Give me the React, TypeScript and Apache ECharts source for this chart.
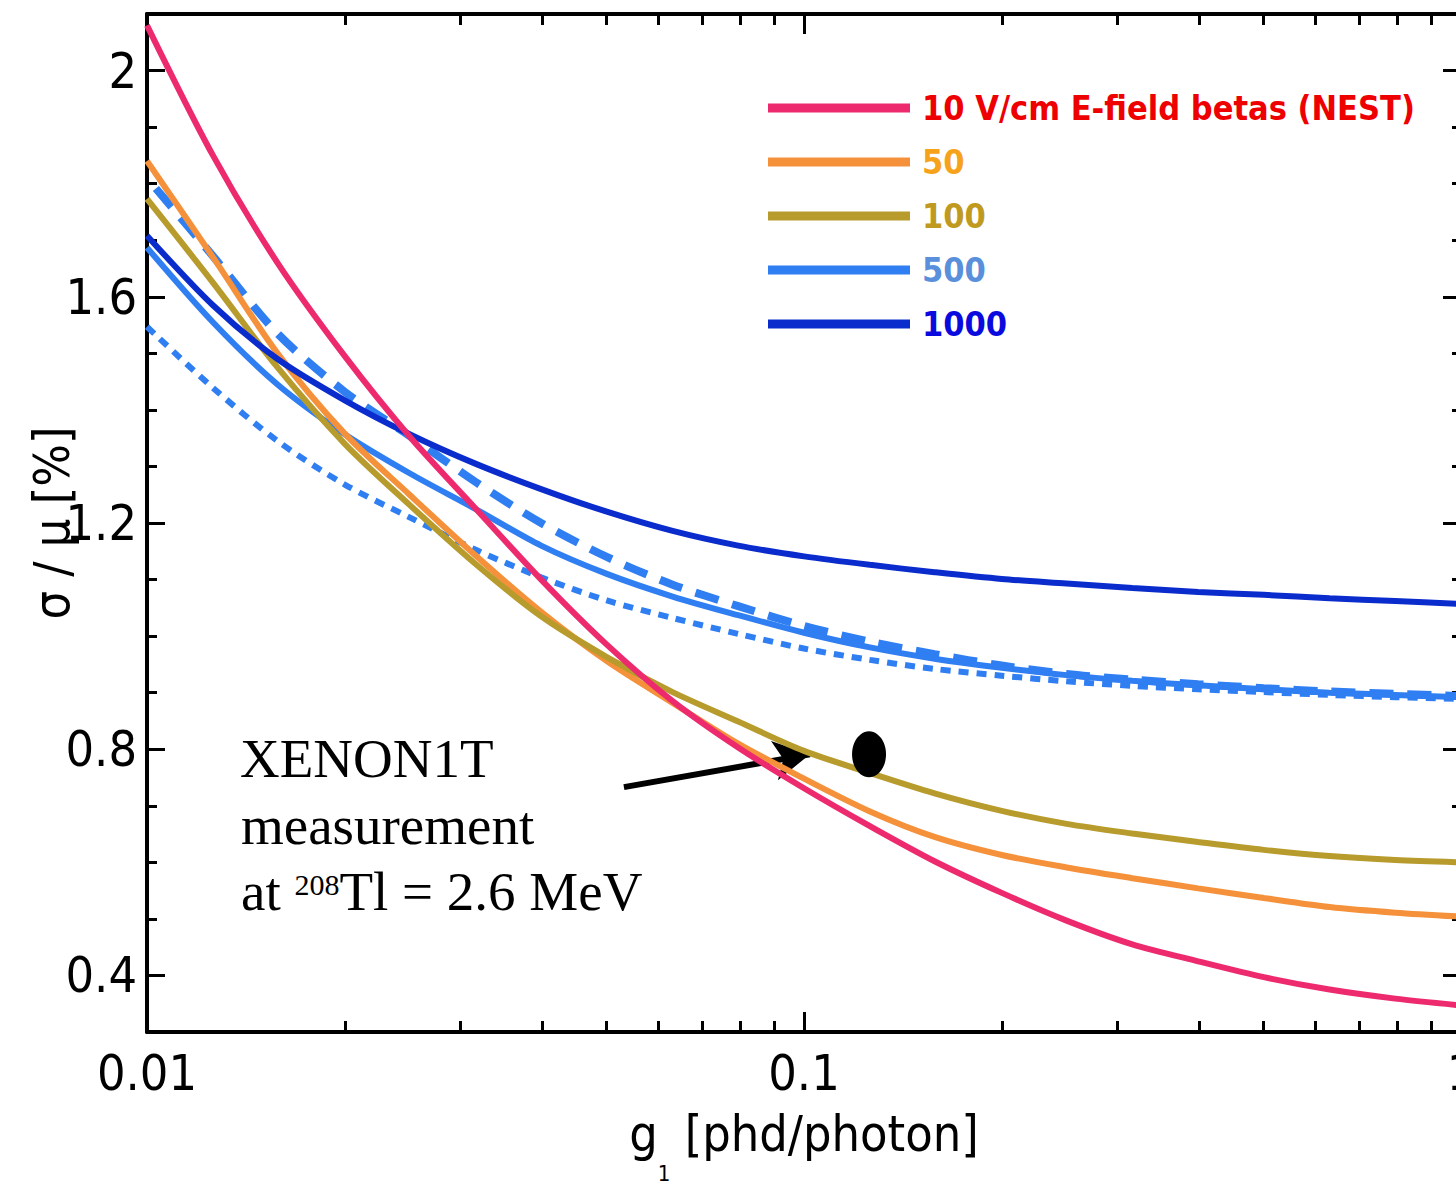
import { useEffect, useRef } from "react";
import * as echarts from "echarts";

// ---- data: g1 grid (phd/photon) and sigma/mu (%) per drift field ----
const gGrid = [0.01, 0.0126, 0.0158, 0.02, 0.0251, 0.0316, 0.0398, 0.0501, 0.0631, 0.0794, 0.1, 0.126, 0.158, 0.2, 0.251, 0.316, 0.398, 0.501, 0.631, 0.794, 1];
const field10 = [2.08, 1.85, 1.66, 1.495, 1.353, 1.226, 1.1, 0.985, 0.885, 0.803, 0.731, 0.664, 0.602, 0.546, 0.497, 0.455, 0.425, 0.397, 0.375, 0.359, 0.347];
const field50 = [1.84, 1.67, 1.5, 1.358, 1.25, 1.143, 1.043, 0.956, 0.882, 0.81, 0.748, 0.69, 0.645, 0.613, 0.591, 0.572, 0.554, 0.537, 0.521, 0.511, 0.504];
const field100 = [1.773, 1.625, 1.475, 1.34, 1.232, 1.128, 1.035, 0.963, 0.901, 0.849, 0.797, 0.758, 0.722, 0.691, 0.668, 0.651, 0.636, 0.622, 0.611, 0.604, 0.6];
const field500 = [1.687, 1.555, 1.445, 1.357, 1.288, 1.225, 1.16, 1.11, 1.07, 1.037, 1.006, 0.98, 0.96, 0.944, 0.931, 0.921, 0.913, 0.906, 0.9, 0.896, 0.892];
const field500Dashed = [1.81, 1.672, 1.535, 1.432, 1.354, 1.273, 1.2, 1.14, 1.091, 1.053, 1.018, 0.99, 0.968, 0.948, 0.933, 0.923, 0.915, 0.908, 0.902, 0.898, 0.894];
const field500Dotted = [1.547, 1.439, 1.345, 1.268, 1.21, 1.153, 1.104, 1.063, 1.032, 1.004, 0.978, 0.958, 0.942, 0.93, 0.92, 0.912, 0.906, 0.901, 0.896, 0.892, 0.889];
const field1000 = [1.708, 1.585, 1.49, 1.417, 1.357, 1.305, 1.26, 1.22, 1.186, 1.16, 1.141, 1.126, 1.113, 1.101, 1.093, 1.085, 1.078, 1.073, 1.067, 1.062, 1.057];

const xenon1tPoint = [[0.1256, 0.791]];
const arrowFrom = [0.0532, 0.733];
const arrowTo = [0.1021, 0.791];

const legendNames = ["10 V/cm E-field betas (NEST)", "50", "100", "500", "1000"];
const legendTextColors = ["#ee0000", "#f7a21b", "#c09a1e", "#5a8fdb", "#0a0adf"];
const lineColors = {
  f10: "#ee2a6f",
  f50: "#f5913a",
  f100: "#b79b2c",
  f500: "#2f7ef2",
  f1000: "#0b2ccc",
};
const yMajorTicks = [0.4, 0.8, 1.2, 1.6, 2.0];
const xMinorTicks = [0.02, 0.03, 0.04, 0.05, 0.06, 0.07, 0.08, 0.09, 0.2, 0.3, 0.4, 0.5, 0.6, 0.7, 0.8, 0.9];
const annotationLines = ["XENON1T", "measurement", "at {sup|208}Tl = 2.6 MeV"];

const NARROW = "'DejaVu Sans Condensed', 'Liberation Sans Narrow', 'Liberation Sans', sans-serif";
const SERIF = "'Liberation Serif', 'DejaVu Serif', serif";

const pairs = (vals: number[]) => gGrid.map((g, i) => [g, vals[i]]);

export default function App() {
  const ref = useRef<HTMLDivElement>(null);
  useEffect(() => {
    const chart = echarts.init(ref.current!, undefined, { renderer: "svg" });
    const axisLine = { show: true, onZero: false, lineStyle: { color: "#000", width: 4 } };
    const tickStyle = { color: "#000", width: 3 };
    const labelStyle = { color: "#000", fontSize: 50, fontFamily: NARROW };
    const xBase = { type: "log", logBase: 10, min: 0.01, max: 1, splitLine: { show: false }, minorTick: { show: false } };
    const yBase = { type: "value", min: 0.3, max: 2.1, interval: 0.1, splitLine: { show: false }, minorTick: { show: false } };

    const lineSeries = (name: string, vals: number[], color: string, width: number, type: any, z: number, dashOffset = 0) => ({
      type: "line",
      name,
      data: pairs(vals),
      smooth: 0.3,
      symbol: "none",
      showSymbol: false,
      color,
      lineStyle: { color, width, type, cap: "butt", dashOffset },
      z,
      xAxisIndex: 0,
      yAxisIndex: 0,
      silent: true,
    });

    chart.setOption({
      animation: false,
      backgroundColor: "#fff",
      grid: { left: 147, top: 14, right: 9, bottom: 152, containLabel: false, outerBoundsMode: "none" },
      legend: {
        show: true,
        orient: "vertical",
        left: 768,
        top: 86,
        padding: 0,
        itemGap: 10,
        itemWidth: 142,
        itemHeight: 9,
        icon: "rect",
        selectedMode: false,
        data: legendNames.map((n, i) => ({ name: n, textStyle: { color: legendTextColors[i] } })),
        textStyle: { fontFamily: NARROW, fontWeight: "bold", fontSize: 34, lineHeight: 44, padding: [0, 0, 0, 7] },
      },
      xAxis: [
        {
          ...xBase,
          position: "bottom",
          axisLine,
          axisTick: { show: true, inside: true, length: 20, lineStyle: tickStyle },
          axisLabel: { show: true, margin: 16, ...labelStyle, formatter: (v: number) => String(v) },
          name: "g{sub|1} [phd/photon]",
          nameLocation: "middle",
          nameGap: 52,
          nameMoveOverlap: false,
          nameTextStyle: {
            ...labelStyle,
            lineHeight: 100,
            rich: { sub: { fontSize: 22, fontFamily: NARROW, color: "#000", lineHeight: 22, verticalAlign: "bottom" } },
          },
        },
        {
          ...xBase,
          position: "bottom",
          axisLine: { show: false },
          axisTick: { show: true, inside: true, length: 11, lineStyle: tickStyle, customValues: xMinorTicks },
          axisLabel: { show: false },
        },
        {
          ...xBase,
          position: "top",
          axisLine,
          axisTick: { show: true, inside: true, length: 20, lineStyle: tickStyle },
          axisLabel: { show: false },
        },
        {
          ...xBase,
          position: "top",
          axisLine: { show: false },
          axisTick: { show: true, inside: true, length: 11, lineStyle: tickStyle, customValues: xMinorTicks },
          axisLabel: { show: false },
        },
      ],
      yAxis: [
        {
          ...yBase,
          position: "left",
          axisLine,
          axisTick: { show: true, inside: true, length: 18, lineStyle: tickStyle, customValues: yMajorTicks },
          axisLabel: {
            show: true,
            margin: 10,
            ...labelStyle,
            customValues: yMajorTicks,
            formatter: (v: number) => String(Math.round(v * 10) / 10),
          },
          name: "σ / μ [%]",
          nameLocation: "middle",
          nameGap: 70,
          nameMoveOverlap: false,
          nameTextStyle: { ...labelStyle },
        },
        {
          ...yBase,
          position: "left",
          axisLine: { show: false },
          axisTick: { show: true, inside: true, length: 10, lineStyle: tickStyle },
          axisLabel: { show: false },
        },
        {
          ...yBase,
          position: "right",
          axisLine,
          axisTick: { show: true, inside: true, length: 18, lineStyle: tickStyle, customValues: yMajorTicks },
          axisLabel: { show: false },
        },
        {
          ...yBase,
          position: "right",
          axisLine: { show: false },
          axisTick: { show: true, inside: true, length: 9, lineStyle: tickStyle },
          axisLabel: { show: false },
        },
      ],
      series: [
        lineSeries("500 (dotted)", field500Dotted, lineColors.f500, 6, [10, 8], 2),
        lineSeries("500 (dashed)", field500Dashed, lineColors.f500, 8, [24, 14], 3, 24),
        lineSeries("500", field500, lineColors.f500, 6, "solid", 4),
        lineSeries("50", field50, lineColors.f50, 6, "solid", 5),
        lineSeries("100", field100, lineColors.f100, 6, "solid", 6),
        lineSeries("1000", field1000, lineColors.f1000, 6, "solid", 7),
        lineSeries(legendNames[0], field10, lineColors.f10, 6, "solid", 8),
        {
          type: "scatter",
          name: "XENON1T",
          data: xenon1tPoint,
          symbol: "circle",
          symbolSize: [34, 46],
          itemStyle: { color: "#000", opacity: 1 },
          xAxisIndex: 0,
          yAxisIndex: 0,
          z: 10,
          silent: true,
          markLine: {
            silent: true,
            animation: false,
            label: { show: false },
            symbolSize: [30, 36],
            lineStyle: { color: "#000", width: 6, type: "solid", opacity: 1 },
            data: [[
              { coord: arrowFrom, symbol: "none" },
              { coord: arrowTo, symbol: "arrow" },
            ]],
          },
        },
      ],
      graphic: [
        { type: "text", x: 240, y: 758, silent: true, style: { text: annotationLines[0], fontSize: 55, fontFamily: SERIF, fill: "#000", verticalAlign: "middle" } },
        { type: "text", x: 241, y: 825, silent: true, style: { text: annotationLines[1], fontSize: 55, fontFamily: SERIF, fill: "#000", verticalAlign: "middle" } },
        {
          type: "text",
          x: 241,
          y: 891,
          silent: true,
          style: {
            text: annotationLines[2],
            fontSize: 55,
            fontFamily: SERIF,
            fill: "#000",
            verticalAlign: "middle",
            rich: { sup: { fontSize: 30, fontFamily: SERIF, fill: "#000", padding: [0, 0, 14, 0] } },
          },
        },
      ],
    });
    return () => chart.dispose();
  }, []);
  return (
    <div style={{ position: "fixed", left: 0, top: 0, width: 1456, height: 1184, overflow: "hidden", background: "#fff" }}>
      <div ref={ref} style={{ width: 1470, height: 1184 }} />
    </div>
  );
}
